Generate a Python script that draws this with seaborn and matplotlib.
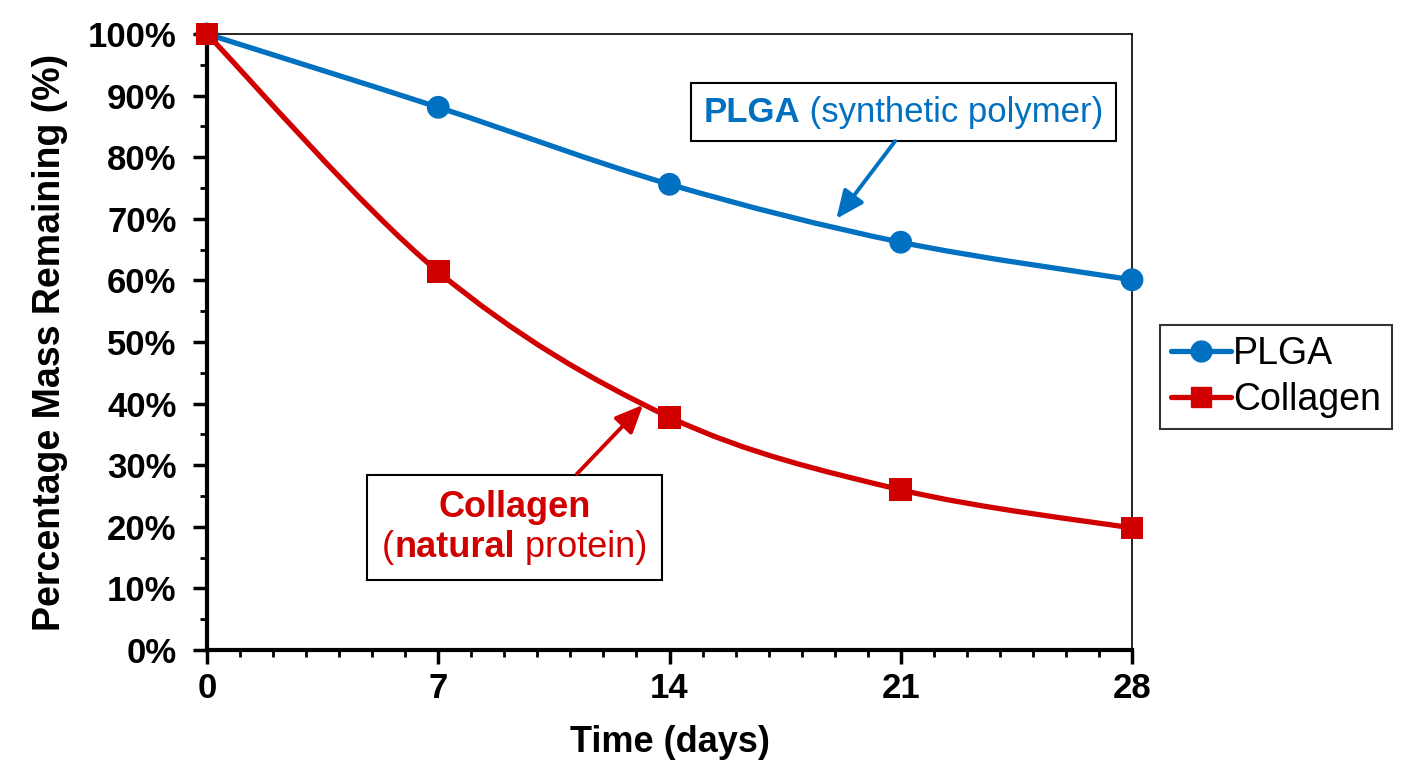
import numpy as np
import pandas as pd
import matplotlib
matplotlib.use("Agg")
import matplotlib.pyplot as plt
import seaborn as sns
from matplotlib.path import Path
from matplotlib.patches import PathPatch
from matplotlib.lines import Line2D
from matplotlib.offsetbox import TextArea, HPacker, VPacker, AnnotationBbox
from matplotlib.ticker import MultipleLocator, PercentFormatter

# data
days = [0, 7, 14, 21, 28]
plga = [100, 88.1, 75.6, 66.2, 60.1]
collagen = [100, 61.4, 37.8, 26.0, 19.8]

blue = "#0070C0"
red = "#D00000"

sns.set_style("white")
plt.rcParams["font.family"] = ["Liberation Sans", "DejaVu Sans"]
plt.rcParams.update({"text.color": "black", "axes.labelcolor": "black",
                     "xtick.color": "black", "ytick.color": "black"})

df = pd.DataFrame({
    "day": days * 2,
    "mass": plga + collagen,
    "material": ["PLGA"] * len(days) + ["Collagen"] * len(days),
})

fig = plt.figure(figsize=(14.08, 7.68), dpi=100)
ax = fig.add_axes([207 / 1408, 118 / 768, 925 / 1408, 616 / 768])


# Excel style smoothed line (Catmull-Rom -> cubic bezier)
def smooth_path(xs, ys):
    pts = np.column_stack([xs, ys]).astype(float)
    ext = np.vstack([pts[0], pts, pts[-1]])
    verts = [pts[0]]
    codes = [Path.MOVETO]
    for i in range(1, len(ext) - 2):
        p0, p1, p2, p3 = ext[i - 1], ext[i], ext[i + 1], ext[i + 2]
        c1 = p1 + (p2 - p0) / 6
        c2 = p2 - (p3 - p1) / 6
        verts += [c1, c2, p2]
        codes += [Path.CURVE4] * 3
    return Path(verts, codes)


for ys, col in [(plga, blue), (collagen, red)]:
    ax.add_patch(PathPatch(smooth_path(days, ys), facecolor="none", edgecolor=col,
                           lw=3.8, capstyle="round", joinstyle="round", zorder=3))

sns.scatterplot(data=df, x="day", y="mass", hue="material", style="material",
                palette={"PLGA": blue, "Collagen": red},
                markers={"PLGA": "o", "Collagen": "s"},
                s=270, linewidth=0, ax=ax, legend=False, zorder=4, clip_on=False)

ax.set_xlim(0, 28)
ax.set_ylim(0, 100)
ax.xaxis.set_major_locator(MultipleLocator(7))
ax.xaxis.set_minor_locator(MultipleLocator(1))
ax.yaxis.set_major_locator(MultipleLocator(10))
ax.yaxis.set_minor_locator(MultipleLocator(5))
ax.yaxis.set_major_formatter(PercentFormatter(decimals=0))

for side in ["left", "bottom"]:
    ax.spines[side].set_linewidth(3)
for side in ["top", "right"]:
    ax.spines[side].set_linewidth(1.2)
for s in ax.spines.values():
    s.set_color("black")

ax.tick_params(which="major", direction="out", length=10, width=2.5, labelsize=25,
               left=True, bottom=True)
ax.tick_params(axis="y", which="major", pad=12)
ax.tick_params(axis="x", which="major", pad=6)
ax.tick_params(which="minor", direction="out", length=5, width=2, left=True, bottom=True)
for lab in ax.get_xticklabels() + ax.get_yticklabels():
    lab.set_fontweight("bold")

ax.set_xlabel("Time (days)", fontsize=26, fontweight="bold", labelpad=14)
ax.set_ylabel("Percentage Mass Remaining (%)", fontsize=27, fontweight="bold", labelpad=14)

# legend outside on the right
handles = [
    Line2D([], [], color=blue, lw=3.8, marker="o", markersize=15, solid_capstyle="round"),
    Line2D([], [], color=red, lw=3.8, marker="s", markersize=15, solid_capstyle="round"),
]
leg = fig.legend(handles, ["PLGA", "Collagen"], loc="center left",
                 bbox_to_anchor=(1160 / 1408, 1 - 377 / 768), fontsize=27,
                 frameon=True, fancybox=False, edgecolor="black", handlelength=1.6,
                 handletextpad=0.05, borderpad=0.3, labelspacing=0.25, borderaxespad=0)
leg.get_frame().set_linewidth(1.5)

# annotation boxes with mixed bold / normal text
fs = 25
plga_txt = HPacker(children=[
    TextArea("PLGA", textprops=dict(color=blue, fontsize=fs, fontweight="bold")),
    TextArea(" (synthetic polymer)", textprops=dict(color=blue, fontsize=fs)),
], align="baseline", pad=0, sep=0)
ab1 = AnnotationBbox(plga_txt, (21.07, 87.3), xycoords="data", frameon=True,
                     box_alignment=(0.5, 0.5), pad=0.9,
                     bboxprops=dict(edgecolor="black", lw=1.5, boxstyle="square,pad=0.9"))
ax.add_artist(ab1)

fs2 = 26
col_line1 = TextArea("Collagen", textprops=dict(color=red, fontsize=fs2, fontweight="bold"))
col_line2 = HPacker(children=[
    TextArea("(", textprops=dict(color=red, fontsize=fs2)),
    TextArea("natural", textprops=dict(color=red, fontsize=fs2, fontweight="bold")),
    TextArea(" protein)", textprops=dict(color=red, fontsize=fs2)),
], align="baseline", pad=0, sep=0)
col_txt = VPacker(children=[col_line1, col_line2], align="center", pad=0, sep=4)
ab2 = AnnotationBbox(col_txt, (9.31, 19.9), xycoords="data", frameon=True,
                     box_alignment=(0.5, 0.5), pad=1.05,
                     bboxprops=dict(edgecolor="black", lw=1.5, boxstyle="square,pad=1.05"))
ax.add_artist(ab2)

# arrows
ax.annotate("", xy=(19.05, 70.0), xytext=(20.83, 82.6),
            arrowprops=dict(arrowstyle="-|>,head_length=1.7,head_width=0.75",
                            color=blue, lw=2.8, shrinkA=0, shrinkB=0))
ax.annotate("", xy=(13.2, 39.8), xytext=(11.2, 28.6),
            arrowprops=dict(arrowstyle="-|>,head_length=1.7,head_width=0.75",
                            color=red, lw=2.8, shrinkA=0, shrinkB=0))

fig.savefig("out.png", dpi=100)
